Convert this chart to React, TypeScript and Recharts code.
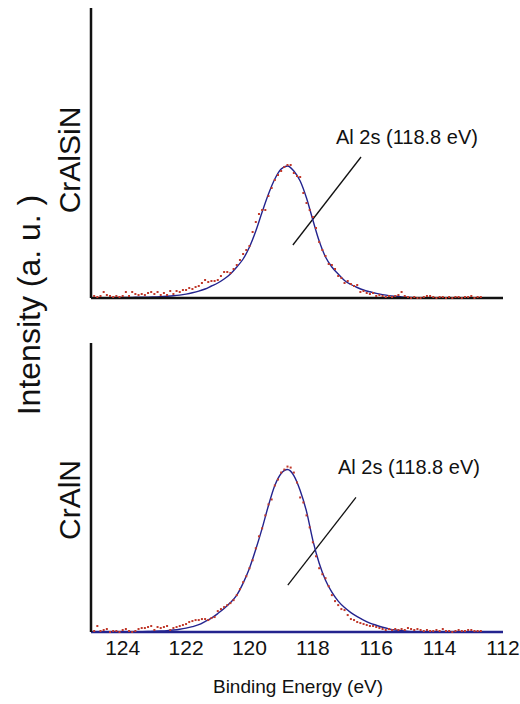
import React from 'react'
import { ComposedChart, Line, Scatter, XAxis, YAxis, ReferenceLine } from 'recharts'

// binding energy grids (eV)
const measuredEnergy = [
  124.9, 124.8, 124.7, 124.6, 124.5, 124.4, 124.3, 124.2, 124.1, 124.0,
  123.9, 123.8, 123.7, 123.6, 123.5, 123.4, 123.3, 123.2, 123.1, 123.0,
  122.9, 122.8, 122.7, 122.6, 122.5, 122.4, 122.3, 122.2, 122.1, 122.0,
  121.9, 121.8, 121.7, 121.6, 121.5, 121.4, 121.3, 121.2, 121.1, 121.0,
  120.9, 120.8, 120.7, 120.6, 120.5, 120.4, 120.3, 120.2, 120.1, 120.0,
  119.9, 119.8, 119.7, 119.6, 119.5, 119.4, 119.3, 119.2, 119.1, 119.0,
  118.9, 118.8, 118.7, 118.6, 118.5, 118.4, 118.3, 118.2, 118.1, 118.0,
  117.9, 117.8, 117.7, 117.6, 117.5, 117.4, 117.3, 117.2, 117.1, 117.0,
  116.9, 116.8, 116.7, 116.6, 116.5, 116.4, 116.3, 116.2, 116.1, 116.0,
  115.9, 115.8, 115.7, 115.6, 115.5, 115.4, 115.3, 115.2, 115.1, 115.0,
  114.9, 114.8, 114.7, 114.6, 114.5, 114.4, 114.3, 114.2, 114.1, 114.0,
  113.9, 113.8, 113.7, 113.6, 113.5, 113.4, 113.3, 113.2, 113.1, 113.0,
  112.9, 112.8, 112.7,
]

const fitEnergy = [
  125.0, 124.8, 124.6, 124.4, 124.2, 124.0, 123.8, 123.6, 123.4, 123.2,
  123.0, 122.8, 122.6, 122.4, 122.2, 122.0, 121.8, 121.6, 121.4, 121.2,
  121.0, 120.8, 120.6, 120.4, 120.2, 120.0, 119.8, 119.6, 119.4, 119.2,
  119.0, 118.8, 118.6, 118.4, 118.2, 118.0, 117.8, 117.6, 117.4, 117.2,
  117.0, 116.8, 116.6, 116.4, 116.2, 116.0, 115.8, 115.6, 115.4, 115.2,
  115.0, 114.8, 114.6, 114.4, 114.2, 114.0, 113.8, 113.6, 113.4, 113.2,
  113.0, 112.8, 112.6, 112.4, 112.2,
]

// CrAlSiN
const crAlSiNMeasured = [
  2, 1, 2, 6, 3, 2, 1, 2, 1, 2,
  6, 2, 6, 4, 3, 4, 3, 5, 6, 4,
  6, 3, 5, 3, 7, 4, 7, 6, 8, 8,
  10, 9, 11, 12, 15, 18, 16, 17, 17, 18,
  22, 26, 26, 25, 29, 33, 38, 44, 48, 52,
  66, 76, 84, 88, 88, 102, 110, 118, 123, 127,
  131, 133, 133, 125, 122, 121, 105, 95, 88, 81,
  70, 56, 48, 42, 34, 33, 29, 22, 20, 15,
  17, 14, 12, 13, 6, 7, 5, 4, 5, 2,
  3, 2, 1, 2, 1, 2, 3, 6, 2, 1,
  0, 1, 0, 0, 1, 2, 2, 1, 0, 1,
  1, 0, 1, 0, 1, 1, 0, 1, 1, 2,
  0, 1, 1,
]
const crAlSiNFit = [
  0.3, 0.3, 0.4, 0.4, 0.5, 0.5, 0.6, 0.7, 0.8, 0.9,
  1.1, 1.3, 1.7, 2.2, 2.9, 3.9, 5.2, 6.8, 9, 12,
  15, 19, 24, 31, 39, 51, 67, 86, 104, 119,
  129, 132, 127, 117, 100, 78, 57, 41, 31, 24,
  17.5, 13.5, 10.5, 8, 6.2, 4.6, 3.4, 2.4, 1.7, 1.1,
  0.7, 0.4, 0.2, 0.1, 0, 0, 0, 0, 0, 0,
  0, 0, 0, 0, 0,
]

// CrAlN
const crAlNMeasured = [
  1, 6, 1, 2, 3, 0, 1, 1, 0, 2,
  3, 1, 0, 1, 3, 4, 4, 5, 6, 2,
  5, 4, 5, 6, 2, 4, 5, 6, 7, 8,
  10, 11, 12, 12, 13, 13, 12, 14, 15, 21,
  23, 25, 27, 29, 32, 37, 43, 50, 56, 64,
  72, 84, 96, 104, 117, 128, 133, 147, 153, 160,
  163, 166, 165, 160, 150, 135, 130, 117, 105, 90,
  76, 64, 58, 54, 46, 37, 31, 27, 23, 22,
  17, 13, 12, 10, 9, 8, 7, 6, 6, 5,
  4, 3, 2, 3, 2, 3, 2, 3, 2, 4,
  3, 2, 3, 2, 1, 2, 1, 1, 2, 1,
  3, 1, 1, 0, 1, 2, 1, 1, 2, 2,
  1, 1, 1,
]
const crAlNFit = [
  0, 0, 0, 0, 0, 0, 0.1, 0.2, 0.3, 0.5,
  0.7, 1, 1.4, 2, 2.8, 3.9, 5.4, 7.3, 10.5, 14,
  18.5, 23.5, 29.5, 37, 49, 64, 83, 104, 127, 147,
  159, 163, 157, 142, 121, 92, 69, 52, 40, 31,
  24.5, 19.5, 15.5, 12, 9, 6.8, 4.8, 3.2, 2, 1.2,
  0.6, 0.2, 0, 0, 0, 0, 0, 0, 0, 0,
  0, 0, 0, 0, 0,
]

const energyTicks = [124, 122, 120, 118, 116, 114, 112]

const pair = (xs: number[], ys: number[]) => xs.map((e, i) => ({ e, v: ys[i] }))

const FONT = '"Liberation Sans", Arial, sans-serif'
const DOT = '#c0392b'
const FIT = '#23238e'

const Dot = (props: any) => <rect x={props.cx - 1} y={props.cy - 1} width={2} height={2} fill={DOT} />

function Panel({ measured, fit, showTicks, height, marginBottom, peakLine, baseColor }: any) {
  return (
    <ComposedChart width={520} height={height} margin={{ top: 8, right: 17, bottom: marginBottom, left: 90 }}>
      <XAxis
        type="number"
        dataKey="e"
        domain={[112, 125]}
        reversed
        ticks={energyTicks}
        tick={showTicks ? { fill: '#111', fontSize: 21, fontFamily: FONT } : false}
        tickLine={false}
        axisLine={{ stroke: baseColor, strokeWidth: 2.5 }}
        height={showTicks ? 40 : 2}
        interval={0}
      />
      <YAxis type="number" domain={[0, 290]} width={1} tick={false} tickLine={false} axisLine={{ stroke: '#111', strokeWidth: 2.5 }} />
      <ReferenceLine segment={peakLine} stroke="#111" strokeWidth={1.3} ifOverflow="visible" />
      <Scatter data={pair(measuredEnergy, measured)} dataKey="v" shape={Dot} isAnimationActive={false} />
      <Line data={pair(fitEnergy, fit)} dataKey="v" type="monotone" stroke={FIT} strokeWidth={1.4} dot={false} isAnimationActive={false} />
    </ComposedChart>
  )
}

const rotated = (cx: number, cy: number, size: number): React.CSSProperties => ({
  position: 'absolute',
  left: cx - 200,
  top: cy - 20,
  width: 400,
  height: 40,
  lineHeight: '40px',
  textAlign: 'center',
  fontSize: size,
  transform: 'rotate(-90deg)',
  whiteSpace: 'nowrap',
})

export default function App() {
  return (
    <div style={{ position: 'absolute', left: 0, top: 0, width: 520, height: 704, background: '#fff', fontFamily: FONT, color: '#111' }}>
      <div style={{ position: 'absolute', left: 0, top: 0 }}>
        <Panel
          measured={crAlSiNMeasured}
          fit={crAlSiNFit}
          showTicks={false}
          height={300}
          marginBottom={0}
          baseColor="#111"
          peakLine={[{ x: 118.63, y: 53 }, { x: 116.48, y: 141 }]}
        />
      </div>
      <div style={{ position: 'absolute', left: 0, top: 335 }}>
        <Panel
          measured={crAlNMeasured}
          fit={crAlNFit}
          showTicks
          height={369}
          marginBottom={32}
          baseColor={FIT}
          peakLine={[{ x: 118.79, y: 47 }, { x: 116.64, y: 135 }]}
        />
      </div>
      <div style={{ position: 'absolute', left: 336, top: 126, fontSize: 20, whiteSpace: 'nowrap' }}>Al 2s (118.8 eV)</div>
      <div style={{ position: 'absolute', left: 338, top: 456, fontSize: 20, whiteSpace: 'nowrap' }}>Al 2s (118.8 eV)</div>
      <div style={{ position: 'absolute', left: 0, top: 676, width: 596, textAlign: 'center', fontSize: 19 }}>Binding Energy (eV)</div>
      <div style={rotated(29, 305, 32)}>Intensity (a. u. )</div>
      <div style={rotated(70, 160, 30)}>CrAlSiN</div>
      <div style={rotated(70, 500, 30)}>CrAlN</div>
    </div>
  )
}
